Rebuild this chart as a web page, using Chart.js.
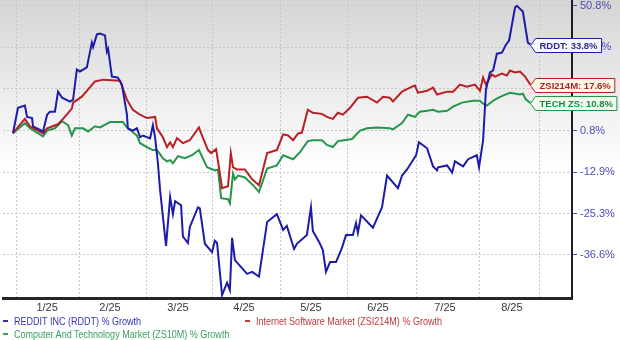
<!DOCTYPE html>
<html><head><meta charset="utf-8">
<script src="https://cdn.jsdelivr.net/npm/chart.js@4.4.1/dist/chart.umd.min.js"></script>
<style>
html,body{margin:0;padding:0;background:#fff;}
#wrap{position:relative;width:620px;height:340px;overflow:hidden;}
#c{position:absolute;left:0;top:0;}
.lg{position:absolute;white-space:nowrap;font-size:11px;line-height:13px;height:13px;transform-origin:0 50%;}
.mk{position:absolute;width:5px;height:2px;}
</style></head><body>
<div id="wrap"><canvas id="c" width="620" height="340"></canvas><div id="legend"></div></div>
<script>
// ---------- data ----------
const xTickLabels = ['1/25','2/25','3/25','4/25','5/25','6/25','7/25','8/25'];
const xLabelDays  = [10.9, 31, 52.7, 73.8, 95.2, 116.6, 138, 159.4];
const xGridDays   = [1, 21.1, 42.5, 63.9, 85.6, 107, 128.8, 149.2, 168.1];
const yTickValues = [50.8, 32.6, 16.1, 0.8, -12.9, -25.3, -36.6];
const yTickLabels = ['50.8%','32.6%','16.1%','0.8%','-12.9%','-25.3%','-36.6%'];
const seriesNames   = ['REDDIT INC (RDDT) % Growth','Internet Software Market (ZSI214M) % Growth','Computer And Technology Market (ZS10M) % Growth'];
const seriesTickers = ['RDDT','ZSI214M','TECH ZS'];

const redditDays = [0,1.6,3.8,4.5,6.1,6.4,9.6,10.9,11.8,13.4,14.4,15.7,18.2,19.2,20.4,21.4,23.6,25.2,25.6,26.8,27.8,29.4,30,30.4,31.6,33.5,34.8,36.4,36.7,38.3,39.6,40.6,41.5,43.8,44.7,45.4,46.3,47,48.9,50.2,51.1,51.8,53.7,54.3,55.9,56.5,59.1,59.7,61.3,63.6,64.5,65.2,66.8,68.4,69.3,70,70.9,74.8,76.4,78.6,81.2,84.3,85.3,86.3,87.5,89.8,90.7,93.9,95.2,95.8,97.8,99,100,101.3,103.2,105.1,106.4,108.6,109.6,110.2,111.2,115,117.9,119.5,123,124.3,125.9,128.8,129.7,132.3,134.2,135.5,135.8,138.7,140.3,141.2,143.8,145.4,148.2,148.9,150.2,151.1,152.4,153.4,154.6,156.2,157.5,158.5,160.4,161,162.9,164.5,165.3];
const redditGrowth = [0,9.0,9.8,5.7,5.3,2.4,0.6,6.5,7.6,7.6,15.0,12.7,11.3,12.0,23.6,22.8,24.4,34.6,32.8,38.1,38.5,37.7,30.8,32.0,20.8,20.4,17.7,6.5,1.7,0.9,1.7,-1.4,-0.8,-1.8,2.8,-1.4,-10.0,-18.4,-34.3,-20.5,-25.5,-21.7,-22.9,-31.8,-33.5,-29.1,-23.5,-23.8,-33.7,-35.9,-32.9,-33.5,-46.7,-43.7,-45.5,-32.1,-38.0,-41.5,-41.0,-42.2,-27.7,-25.5,-27.7,-29.9,-28.8,-35.1,-33.7,-31.3,-23.5,-30.2,-33.2,-35.4,-41.0,-38.5,-38.5,-34.8,-31.3,-31.3,-28.0,-30.7,-25.8,-29.3,-23.5,-13.9,-17.8,-13.9,-12.0,-7.4,-3.1,-5.1,-11.0,-12.3,-11.3,-10.7,-13.0,-9.4,-11.0,-8.7,-7.4,-11.3,-2.4,15.7,22.4,23.2,30.0,30.4,33.7,35.5,50.0,50.8,48.2,34.6,33.8];

const softwareDays = [0,3.8,5.4,9.6,10.9,14.4,16,18.8,19.2,22,26.2,28.8,34.2,36.4,38.3,40.6,42.8,45.4,46,47.9,49.2,50.2,51.1,52.4,54.3,56.5,59.4,60.4,62.3,63.3,64.9,66.8,68.7,69.6,70.3,71.6,74.1,76.4,78.6,81.2,84.3,86.3,87.9,89.5,91.1,92.3,94.2,95.8,98.7,100.3,102.2,103.8,105.4,107.7,110.2,113.1,116.3,118.2,120.4,121.4,124.3,127.5,128.4,129.4,132.3,134.2,135.5,138.7,140.6,142.8,145,147.6,149.2,150.2,151.1,153,154,156.2,157.8,158.8,160.4,162,163.6,165.3];
const softwareGrowth = [0,5.0,2.4,-0.1,1.7,3.1,5.0,8.7,10.9,13.1,18.9,19.6,19.2,12.0,8.3,6.5,5.3,5.7,1.7,-1.4,-4.7,-3.1,-4.7,-1.7,-3.4,-2.4,2.0,-0.8,-5.7,-6.7,-5.4,-17.8,-17.2,-6.7,-11.3,-12.0,-12.0,-15.1,-16.9,-6.7,-5.7,-0.4,-0.8,-2.4,-0.1,0.2,8.3,7.2,6.8,5.7,5.0,7.2,6.5,9.0,12.7,13.1,10.9,13.1,12.7,11.3,15.0,16.9,17.3,14.6,15.3,16.5,13.9,15.0,15.0,17.7,16.9,17.7,15.3,20.4,17.7,21.6,20.8,22.0,21.2,23.2,22.4,22.8,20.8,17.6];

const techDays = [0,3.8,5.4,9.6,10.9,13.4,15.7,17.6,18.8,19.8,22.4,24,26.2,27.8,31,35.1,36.4,39.6,40.6,42.8,44.7,46,47.9,49.2,50.2,51.1,52.7,54.9,57.2,59.4,62,64.5,65.5,66.5,68.7,69.3,70.3,70.9,71.9,74.1,76.7,78.6,81.2,84.3,86.3,89.5,91.7,94.2,95.8,98.7,100.3,102.2,103.8,108.3,110.9,113.1,116.3,120.4,121.4,124.3,126.2,128.4,130,132.3,134.2,135.8,138.7,140.6,143.5,147,149.2,150.2,151.4,153.4,155,156.5,158.8,162,162.9,163.9,165.3];
const techGrowth = [0,3.5,1.7,-1.1,0.9,1.7,4.2,2.8,-0.8,1.7,1.7,0.6,2.4,2.0,3.9,3.9,2.0,-0.8,-3.4,-4.7,-5.7,-5.7,-8.4,-9.4,-9.0,-10.0,-7.7,-8.4,-7.4,-5.7,-11.3,-12.3,-12.0,-20.8,-21.1,-22.3,-13.3,-15.1,-13.9,-14.5,-16.9,-19.0,-11.7,-10.7,-7.4,-8.7,-6.4,-2.7,-2.4,-2.4,-4.0,-4.7,-2.7,-2.0,0.9,1.7,2.0,1.7,1.3,3.5,6.5,5.7,7.6,7.9,8.3,7.6,7.9,9.4,10.9,11.6,11.6,10.5,9.8,11.6,12.7,13.5,14.6,13.9,14.2,12.0,10.8];

// ---------- styles ----------
const LINE_COLORS = ['#1c1ca8','#b91f24','#24964b'];
const LEGEND_COLORS = ['#3434b4','#c23a3a','#3a9e5c'];
const BOX_TEXT = ['#2c2c8c','#a02828','#23843f'];
const BOX_FILL = ['#f8f8ff','#fff8e6','#f3fbef'];
const AXIS_BLUE = '#4b4bb5';

function hasFont(f){
  const c = document.createElement('canvas').getContext('2d');
  const s = 'Internet Software Market 0123';
  c.font = '20px monospace'; const a = c.measureText(s).width;
  c.font = '20px "' + f + '", monospace'; return Math.abs(c.measureText(s).width - a) > 0.5;
}
const NARROW = hasFont('Liberation Sans Narrow');
const BOX_FONT = NARROW ? 'bold 11px "Liberation Sans Narrow"' : 'bold 9.5px "Liberation Sans"';

// custom scale: growth axis spaced logarithmically in (value + offset)
const OFFSET = 152.7;
class GrowthScale extends Chart.LinearScale {
  configure() {
    super.configure();
    this._tStart = Math.log(this.min + OFFSET);
    this._tRange = Math.log(this.max + OFFSET) - this._tStart;
  }
  getPixelForValue(v) {
    if (v === null || v === undefined || isNaN(v)) return NaN;
    return this.getPixelForDecimal((Math.log(v + OFFSET) - this._tStart) / this._tRange);
  }
  getValueForPixel(p) {
    return Math.exp(this._tStart + this.getDecimalForPixel(p) * this._tRange) - OFFSET;
  }
}
GrowthScale.id = 'growth';
GrowthScale.defaults = Chart.LinearScale.defaults;
Chart.register(GrowthScale);

const bgPlugin = {
  id: 'bg',
  beforeDraw(chart) {
    const {ctx, width, height} = chart;
    const g = ctx.createLinearGradient(0, 0, 0, 170);
    g.addColorStop(0, '#d5d5d5'); g.addColorStop(1, '#ffffff');
    ctx.save(); ctx.fillStyle = g; ctx.fillRect(0, 0, width, height); ctx.restore();
  }
};

const endLabels = {
  id: 'endLabels',
  afterDraw(chart) {
    const ctx = chart.ctx, xs = chart.scales.x, ys = chart.scales.y;
    chart.data.datasets.forEach((ds, i) => {
      const last = ds.data[ds.data.length - 1];
      const px = xs.getPixelForValue(last.x), py = Math.round(ys.getPixelForValue(last.y)) + 0.5;
      const text = seriesTickers[i] + ': ' + last.y.toFixed(1) + '%';
      ctx.save();
      ctx.font = BOX_FONT;
      const w = ctx.measureText(text).width;
      const h = 14, a = 5, pad = 4;
      const x0 = Math.round(px) + 0.5;
      ctx.beginPath();
      ctx.moveTo(x0, py);
      ctx.lineTo(x0 + a, py - h / 2);
      ctx.lineTo(x0 + a + w + 2 * pad, py - h / 2);
      ctx.lineTo(x0 + a + w + 2 * pad, py + h / 2);
      ctx.lineTo(x0 + a, py + h / 2);
      ctx.closePath();
      ctx.fillStyle = BOX_FILL[i]; ctx.fill();
      ctx.lineWidth = 1; ctx.strokeStyle = ds.borderColor; ctx.stroke();
      ctx.fillStyle = BOX_TEXT[i]; ctx.textBaseline = 'middle'; ctx.textAlign = 'left';
      ctx.fillText(text, x0 + a + pad, py + 0.5);
      ctx.restore();
    });
  }
};

const toPoints = (xs, ys) => xs.map((x, i) => ({x: x, y: ys[i]}));

const chart = new Chart(document.getElementById('c'), {
  type: 'line',
  data: {
    datasets: [
      {label: seriesNames[0], data: toPoints(redditDays, redditGrowth), borderColor: LINE_COLORS[0]},
      {label: seriesNames[1], data: toPoints(softwareDays, softwareGrowth), borderColor: LINE_COLORS[1]},
      {label: seriesNames[2], data: toPoints(techDays, techGrowth), borderColor: LINE_COLORS[2]}
    ]
  },
  options: {
    responsive: false, animation: false, devicePixelRatio: 1,
    layout: {padding: {left: 3, right: 0, top: 0, bottom: 26}},
    plugins: {legend: {display: false}, tooltip: {enabled: false}},
    elements: {point: {radius: 0}, line: {borderWidth: 2, tension: 0, fill: false}},
    scales: {
      x: {
        type: 'linear', min: -3.19, max: 178.6, bounds: 'data',
        afterBuildTicks: s => {
          s.ticks = xGridDays.concat(xLabelDays).sort((a, b) => a - b).map(v => ({value: v}));
        },
        afterFit: s => { s.height = 16; s.paddingLeft = 0; s.paddingRight = 0; },
        grid: {
          color: c => (c.tick && xGridDays.includes(c.tick.value)) ? '#c6c6c6' : 'rgba(0,0,0,0)',
          lineWidth: 1, drawTicks: false
        },
        border: {display: true, color: '#262626', width: 3, dash: [2, 2]},
        ticks: {
          autoSkip: false, maxRotation: 0, minRotation: 0, padding: 3, color: '#3a3a3a',
          font: {family: 'Liberation Sans', size: 11},
          callback: v => { const i = xLabelDays.indexOf(v); return i >= 0 ? xTickLabels[i] : ''; }
        }
      },
      y: {
        type: 'growth', position: 'right', min: -47.4, max: 53.5, bounds: 'data',
        afterBuildTicks: s => { s.ticks = yTickValues.map(v => ({value: v})); },
        afterFit: s => { s.width = 48; s.paddingTop = 0; s.paddingBottom = 0; },
        grid: {color: '#c6c6c6', lineWidth: 1, drawTicks: true, tickLength: 5, tickColor: AXIS_BLUE, tickWidth: 1},
        border: {display: true, color: '#1e1e1e', width: 2, dash: [2, 2]},
        ticks: {
          autoSkip: false, padding: 3, color: AXIS_BLUE,
          font: {family: 'Liberation Sans', size: 11},
          callback: (v, i) => yTickLabels[i]
        }
      }
    }
  },
  plugins: [bgPlugin, endLabels]
});

// ---------- legend (HTML text) ----------
const legendPos = [[3, 321], [245, 321], [3, 334]];
const lg = document.getElementById('legend');
chart.data.datasets.forEach((ds, i) => {
  const [lx, ly] = legendPos[i];
  const mk = document.createElement('div');
  mk.className = 'mk'; mk.style.left = lx + 'px'; mk.style.top = (ly - 1) + 'px';
  mk.style.background = LEGEND_COLORS[i];
  lg.appendChild(mk);
  const t = document.createElement('div');
  t.className = 'lg'; t.textContent = ds.label;
  t.style.left = (lx + 11) + 'px'; t.style.top = (ly - 6.5) + 'px';
  t.style.color = LEGEND_COLORS[i];
  if (NARROW) { t.style.fontFamily = '"Liberation Sans Narrow"'; }
  else { t.style.fontFamily = '"Liberation Sans"'; t.style.transform = 'scaleX(0.82)'; }
  lg.appendChild(t);
});
</script>
</body></html>
